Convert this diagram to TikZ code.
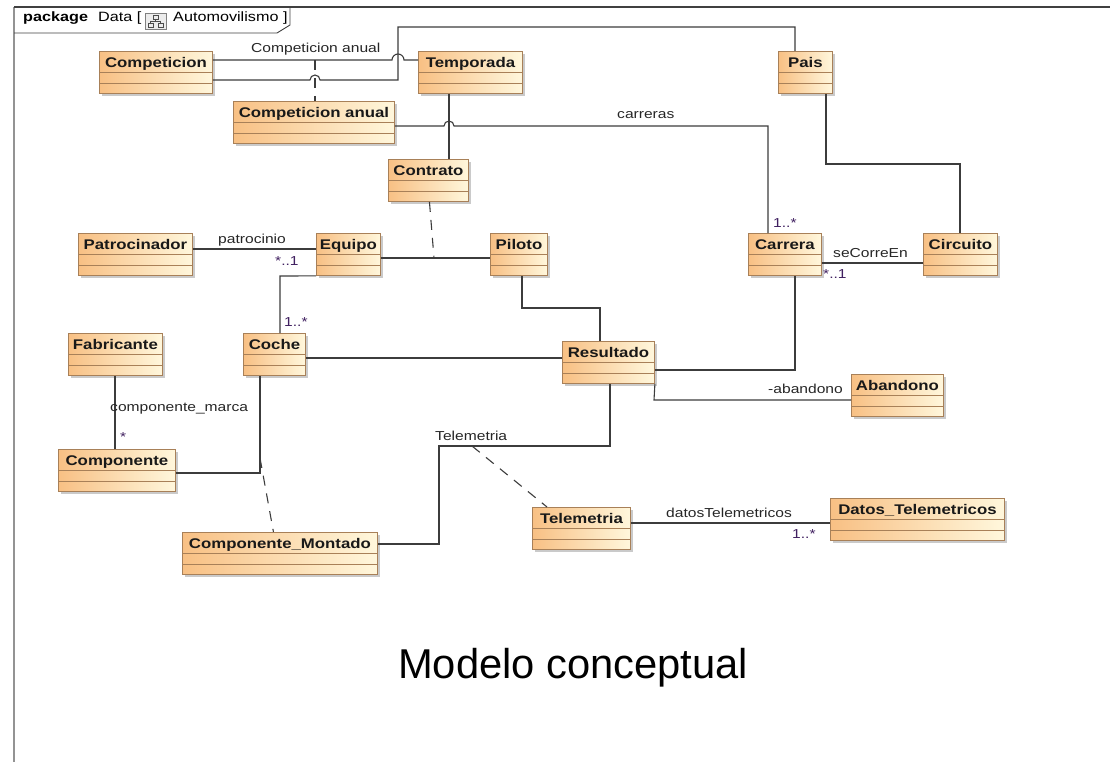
\documentclass[tikz,border=0pt]{standalone}
\usepackage{fontspec}
\usepackage{tikz}
\usetikzlibrary{shadows}
\newfontfamily\umlfont[FakeStretch=1.2]{Liberation Sans}
\newfontfamily\titlefont{Liberation Sans}
\definecolor{umlleft}{RGB}{248,192,132}
\definecolor{umlright}{RGB}{255,247,220}
\definecolor{umlborder}{RGB}{168,128,88}
\definecolor{umlline}{RGB}{60,60,60}
\definecolor{multcol}{RGB}{64,32,96}
\tikzset{
  umlclass/.style={draw=umlborder, line width=0.9pt, anchor=north west,
    left color=umlleft, right color=umlright,
    minimum height=42pt, inner xsep=0pt, inner ysep=3pt,
    text height=13pt, text depth=23pt, text=black!90,
    font=\umlfont\bfseries\fontsize{14}{16}\selectfont,
    drop shadow={shadow xshift=2.5pt, shadow yshift=-2.5pt, fill=black!35, opacity=0.6},
    path picture={
      \draw[umlborder, line width=0.9pt]
        ([yshift=-21pt]path picture bounding box.north west) -- ([yshift=-21pt]path picture bounding box.north east)
        ([yshift=-32pt]path picture bounding box.north west) -- ([yshift=-32pt]path picture bounding box.north east);
    }},
  assoc/.style={draw=umlline, line width=1.1pt},
  assocclass/.style={draw=umlline, line width=1.1pt, dash pattern=on 10pt off 8pt},
  umllabel/.style={anchor=base west, inner sep=0pt, text=black!85,
    font=\umlfont\fontsize{13}{15}\selectfont},
  multlabel/.style={umllabel, text=multcol}
}

\begin{document}
\begin{tikzpicture}[x=1pt,y=-1pt]
\useasboundingbox (0,0) rectangle (1110,762);
\draw[gray!85, line width=1.8pt] (14,762) -- (14,7);
\draw[black!75, line width=1.4pt] (14,7) -- (1110,7);
\draw[black!75, line width=0.9pt] (14,33) -- (277,33) -- (290,25) -- (290,7);
\node[anchor=base west, inner sep=0pt, font=\umlfont\bfseries\fontsize{13.5}{15}\selectfont] (hdrPkg) at (23,22) {package};
\node[anchor=base west, inner sep=0pt, font=\umlfont\fontsize{13.5}{15}\selectfont] (hdrData) at (98,22) {Data [};
\draw[gray, fill=gray!15, line width=0.6pt] (145,13) rectangle (166,29);
\draw[gray!60!black, line width=0.6pt] (153,15) rectangle (158,19) (148,23) rectangle (153,27) (158,23) rectangle (163,27)
  (155.5,19) -- (155.5,21) (150.5,21) -- (160.5,21) (150.5,21) -- (150.5,23) (160.5,21) -- (160.5,23);
\node[anchor=base west, inner sep=0pt, font=\umlfont\fontsize{13.5}{15}\selectfont] (hdrName) at (173,22) {Automovilismo ]};

\node[umlclass, minimum width=113pt] (competicion) at (99,51) {Competicion};
\node[umlclass, minimum width=104pt] (temporada) at (418,51) {Temporada};
\node[umlclass, minimum width=161pt] (compAnual) at (233,101) {Competicion anual};
\node[umlclass, minimum width=54pt] (pais) at (778,51) {Pais};
\node[umlclass, minimum width=80pt] (contrato) at (388,159) {Contrato};
\node[umlclass, minimum width=114pt] (patrocinador) at (78,233) {Patrocinador};
\node[umlclass, minimum width=64pt] (equipo) at (316,233) {Equipo};
\node[umlclass, minimum width=57pt] (piloto) at (490,233) {Piloto};
\node[umlclass, minimum width=73pt] (carrera) at (748,233) {Carrera};
\node[umlclass, minimum width=74pt] (circuito) at (923,233) {Circuito};
\node[umlclass, minimum width=94pt] (fabricante) at (68,333) {Fabricante};
\node[umlclass, minimum width=62pt] (coche) at (243,333) {Coche};
\node[umlclass, minimum width=92pt] (resultado) at (562,341) {Resultado};
\node[umlclass, minimum width=92pt] (abandono) at (851,374) {Abandono};
\node[umlclass, minimum width=117pt] (componente) at (58,449) {Componente};
\node[umlclass, minimum width=195pt] (compMontado) at (182,532) {Componente\_Montado};
\node[umlclass, minimum width=98pt] (telemetria) at (532,507) {Telemetria};
\node[umlclass, minimum width=174pt] (datos) at (830,498) {Datos\_Telemetricos};

\coordinate (hA) at (398,60);
\coordinate (aCA) at (315,60);
\coordinate (hB) at (315,80);
\coordinate (pA) at (398,80);
\coordinate (pB) at (398,27);
\coordinate (pC) at (795,27);
\coordinate (tC) at (449,93);
\coordinate (hC) at (449,126);
\coordinate (cA) at (768,126);
\coordinate (eP) at (434,258);
\coordinate (pE) at (250,249);
\coordinate (eC) at (280,276);
\coordinate (cR) at (400,358);
\coordinate (pR1) at (522,308);
\coordinate (pR2) at (600,308);
\coordinate (cR1) at (795,370);
\coordinate (rA) at (654,400);
\coordinate (cC) at (870,263);
\coordinate (pC1) at (826,164);
\coordinate (pC2) at (960,164);
\coordinate (fC) at (115,410);
\coordinate (cC1) at (260,473);
\coordinate (cM) at (260,458);
\coordinate (mT1) at (439,544);
\coordinate (mT2) at (439,446);
\coordinate (mT3) at (610,446);
\coordinate (tD) at (472,446);
\coordinate (tDa) at (700,523);

\draw[assoc] (competicion.east |- hA) -- ([xshift=-6pt]hA) arc[start angle=180, end angle=0, radius=6pt] -- (temporada.west |- hA);
\draw[assocclass] (aCA) -- (compAnual.north -| aCA);
\draw[assoc] (competicion.east |- pA) -- ([xshift=-5pt]hB) arc[start angle=180, end angle=0, radius=5pt] -- (pA) -- (pB) -- (pC) -- (pais.north -| pC);
\draw[assoc] (temporada.south -| tC) -- (contrato.north -| tC);
\draw[assoc] (compAnual.east |- cA) -- ([xshift=-5pt]hC) arc[start angle=180, end angle=0, radius=5pt] -- (cA) -- (carrera.north -| cA);
\draw[assoc] (equipo.east |- eP) -- (piloto.west |- eP);
\draw[assocclass] ([xshift=1pt]contrato.south) -- (eP);
\draw[assoc] (patrocinador.east |- pE) -- (equipo.west |- pE);
\draw[assoc] (equipo.south west) -- (eC) -- (coche.north -| eC);
\draw[assoc] (coche.east |- cR) -- (resultado.west |- cR);
\draw[assoc] (piloto.south -| pR1) -- (pR1) -- (pR2) -- (resultado.north -| pR2);
\draw[assoc] (carrera.south -| cR1) -- (cR1) -- (resultado.east |- cR1);
\draw[assoc] (resultado.south east) -- (rA) -- (abandono.west |- rA);
\draw[assoc] (carrera.east |- cC) -- (circuito.west |- cC);
\draw[assoc] (pais.south -| pC1) -- (pC1) -- (pC2) -- (circuito.north -| pC2);
\draw[assoc] (fabricante.south -| fC) -- (componente.north -| fC);
\draw[assoc] (coche.south -| cC1) -- (cC1) -- (componente.east |- cC1);
\draw[assocclass] (cM) -- ([xshift=-6.5pt]compMontado.north);
\draw[assoc] (compMontado.east |- mT1) -- (mT1) -- (mT2) -- (mT3) -- (resultado.south -| mT3);
\draw[assocclass] (tD) -- ([xshift=15pt]telemetria.north west);
\draw[assoc] (telemetria.east |- tDa) -- (datos.west |- tDa);

\node[umllabel] (lblCompAnual) at (251,53) {Competicion anual};
\node[umllabel] (lblCarreras) at (617,119) {carreras};
\node[multlabel] (mCarrera) at (773,227) {1..*};
\node[umllabel] (lblPatrocinio) at (218,243) {patrocinio};
\node[multlabel] (mEquipo) at (275,265) {*..1};
\node[multlabel] (mCoche) at (284,326) {1..*};
\node[umllabel] (lblSeCorre) at (833,257) {seCorreEn};
\node[multlabel] (mCircuito) at (823,278) {*..1};
\node[umllabel] (lblAbandono) at (768,393) {-abandono};
\node[umllabel] (lblMarca) at (110,411) {componente\_marca};
\node[multlabel] (mComponente) at (120,441) {*};
\node[umllabel] (lblTelemetria) at (435,440) {Telemetria};
\node[umllabel] (lblDatos) at (666,517) {datosTelemetricos};
\node[multlabel] (mDatos) at (792,538) {1..*};

\node[anchor=base west, inner sep=0pt, font=\titlefont\fontsize{41.7}{48}\selectfont] (titulo) at (398,678) {Modelo conceptual};
\end{tikzpicture}
\end{document}
